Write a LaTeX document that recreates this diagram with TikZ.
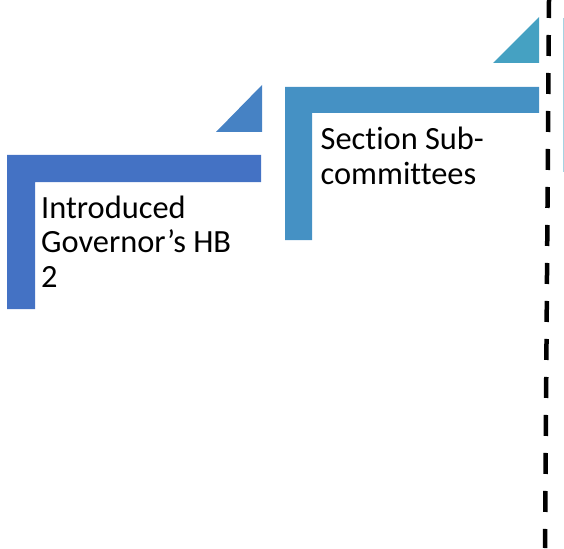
\documentclass[tikz,border=0pt]{standalone}
\usepackage{fontspec}
\setmainfont[Ligatures=NoCommon]{Carlito}
\usetikzlibrary{calc}

\definecolor{stageone}{HTML}{4472C4}
\definecolor{tabone}{HTML}{4682C4}
\definecolor{stagetwo}{HTML}{4591C4}
\definecolor{tabtwo}{HTML}{45A1C2}
\definecolor{stagethree}{HTML}{A4D3E2}

\begin{document}
\begin{tikzpicture}[
  x=1pt, y=-1pt,
  bar/.style={fill=#1},
  stage text/.style={anchor=base west, align=left, inner sep=0pt,
    font=\fontsize{32.4}{34.5}\selectfont},
  divider/.style={line width=4.5pt, dash pattern=on 21pt off 17pt, dash phase=3pt}
]
\useasboundingbox (0,0) rectangle (564,548);

\coordinate (S1) at (7,155);
\coordinate (S2) at (285,87);
\coordinate (S3) at (563.5,18);

% first stage
\fill[bar=stageone] (S1) -- ++(254,0) -- ++(0,27) -- ++(-226,0)
  -- ++(0,127) -- ++(-28,0) -- cycle;
\fill[bar=tabone] ($(S1)+(209,-23)$) -- ++(46,-47) -- ++(0,47) -- cycle;
\node[stage text] (intro) at ($(S1)+(34,132.3)$) {Introduced\\Governor’s HB\\2};

% second stage
\fill[bar=stagetwo] (S2) -- ++(254,0) -- ++(0,26) -- ++(-227,0)
  -- ++(0,127) -- ++(-27,0) -- cycle;
\fill[bar=tabtwo] ($(S2)+(208,-24)$) -- ++(46,-46) -- ++(0,46) -- cycle;
\node[stage text] (section) at ($(S2)+(35.5,97.3)$) {Section Sub-\\committees};

% third stage, cut off
\draw[stagethree, line width=1pt] (S3) -- ++(0,154);

\coordinate (top) at (549,0);
\coordinate (bottom) at (545,548);
\draw[divider] (top) -- (bottom);
\end{tikzpicture}
\end{document}
